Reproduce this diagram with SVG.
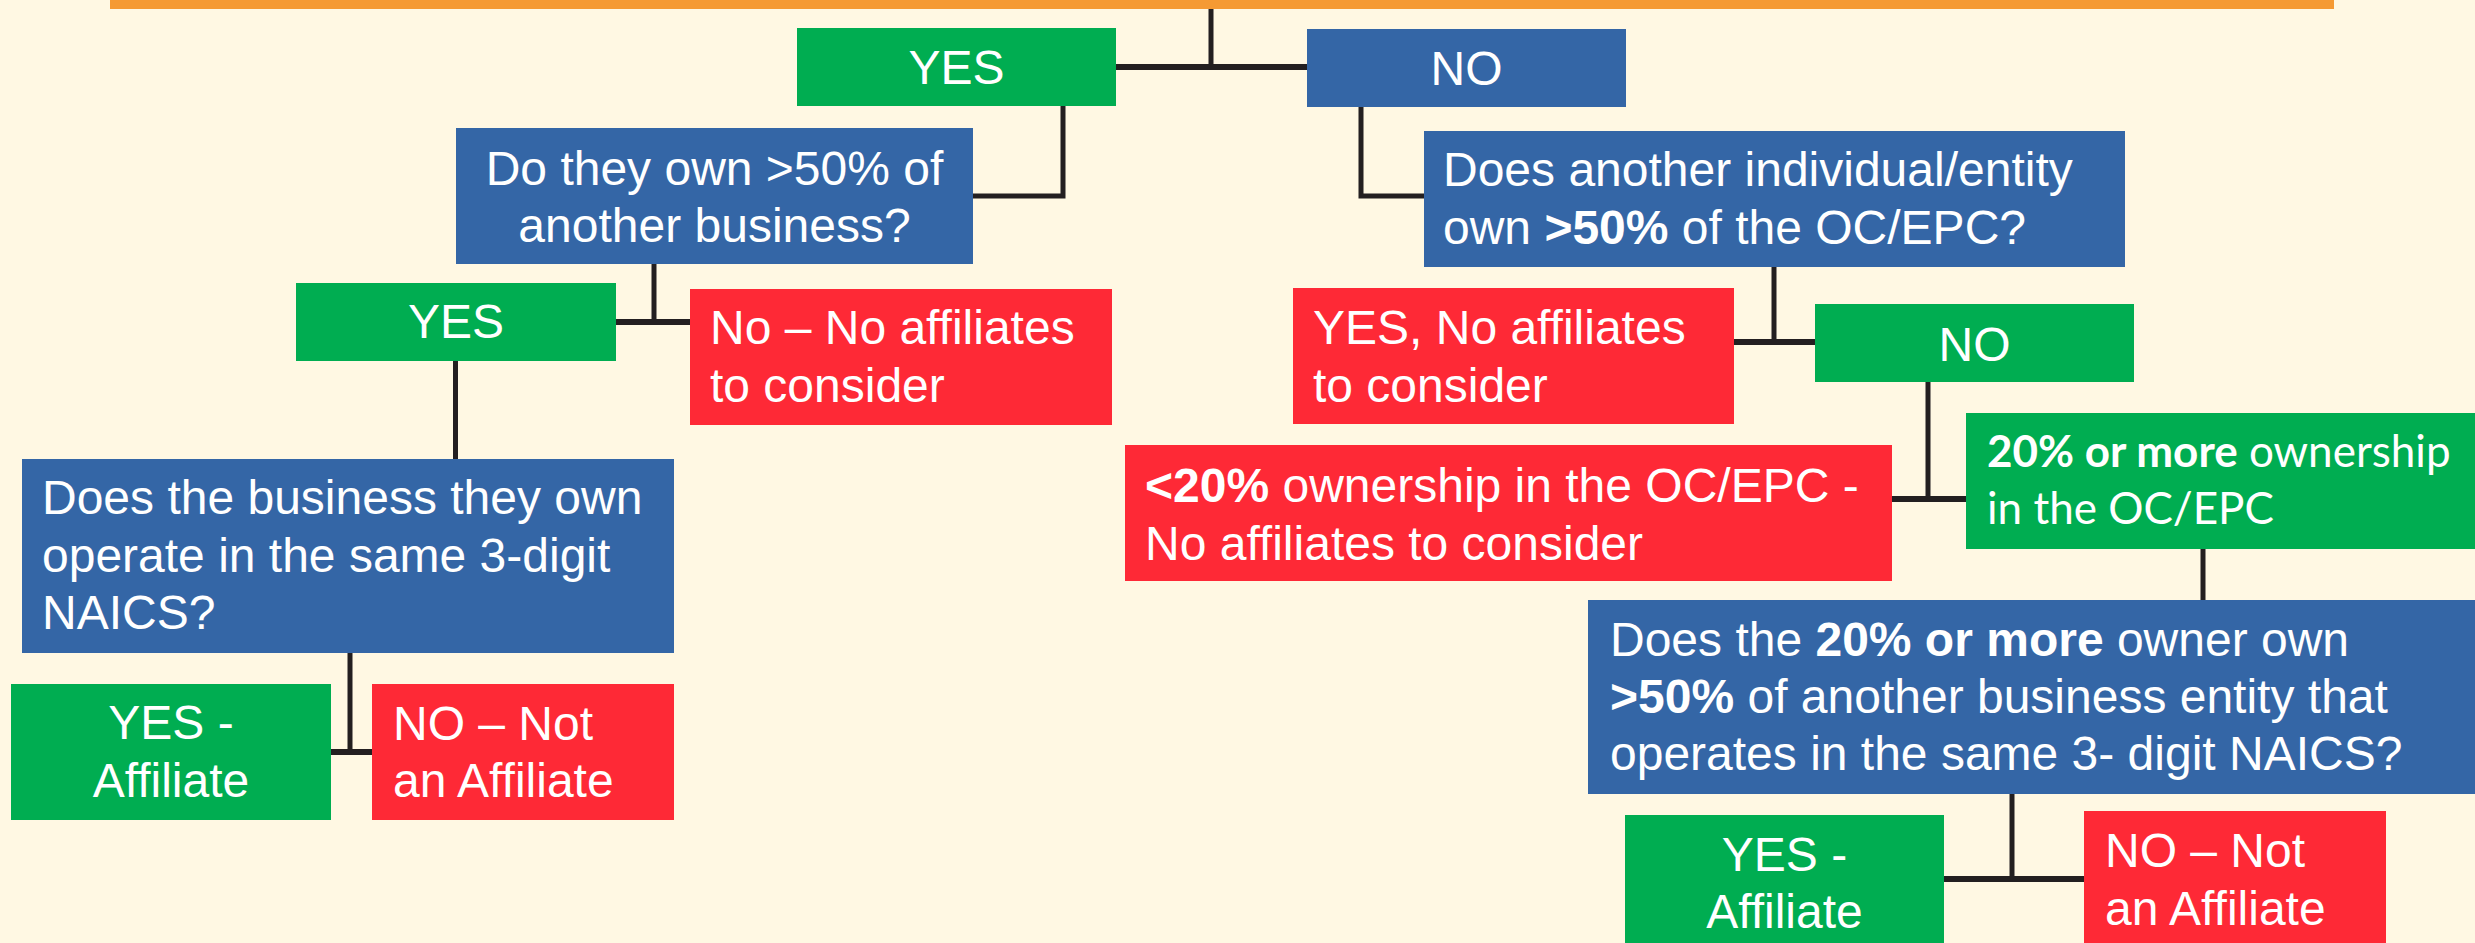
<svg xmlns="http://www.w3.org/2000/svg" width="2475" height="943" viewBox="0 0 2475 943">
<style>
.bg{fill:#FFF8E3}
.green{fill:#00AD51}
.blue{fill:#3466A6}
.red{fill:#FE2936}
.orange{fill:#F59A33}
.t{font-family:"Liberation Sans",Arial,sans-serif;font-size:48px;fill:#FFFFFF}
.c{text-anchor:middle}
.b{font-weight:bold}
.cal{font-family:Lato,"Liberation Sans",sans-serif;font-size:44px;fill:#FFFFFF}
.ln{stroke:#231F20;stroke-width:5;fill:none}
.lh{stroke:#231F20;stroke-width:6;fill:none}
</style>
<rect class="bg" x="0" y="0" width="2475" height="943"/>
<g id="connectors">
<path class="ln" d="M1211,9 V67"/>
<path class="lh" d="M1116,67 H1307"/>
<path class="ln" d="M1063,106 V196 H973"/>
<path class="ln" d="M1361,100 V196 H1424"/>
<path class="ln" d="M654,264 V322"/>
<path class="lh" d="M616,322 H690"/>
<path class="ln" d="M455.5,361 V459"/>
<path class="ln" d="M350,653 V752"/>
<path class="lh" d="M331,752 H372"/>
<path class="ln" d="M1774,267 V342"/>
<path class="lh" d="M1734,342 H1815"/>
<path class="ln" d="M1928,382 V499"/>
<path class="lh" d="M1892,499 H1966"/>
<path class="ln" d="M2203,549 V600"/>
<path class="ln" d="M2012,794 V879"/>
<path class="lh" d="M1944,879 H2084"/>
</g>
<g id="top-bar">
<rect class="orange" x="110" y="-50" width="2224" height="59"/>
</g>
<g id="yes-1">
<rect class="green" x="797" y="28" width="319" height="78"/>
<text class="t c" x="956.5" y="84">YES</text>
</g>
<g id="no-1">
<rect class="blue" x="1307" y="29" width="319" height="78"/>
<text class="t c" x="1466.5" y="85">NO</text>
</g>
<g id="q-own-50">
<rect class="blue" x="456" y="128" width="517" height="136"/>
<text class="t c" x="714.5" y="185">Do they own &gt;50% of</text>
<text class="t c" x="714.5" y="242">another business?</text>
</g>
<g id="yes-2">
<rect class="green" x="296" y="283" width="320" height="78"/>
<text class="t c" x="456" y="338">YES</text>
</g>
<g id="no-affiliates-1">
<rect class="red" x="690" y="289" width="422" height="136"/>
<text class="t" x="710" y="344">No – No affiliates</text>
<text class="t" x="710" y="401.5">to consider</text>
</g>
<g id="q-same-naics">
<rect class="blue" x="22" y="459" width="652" height="194"/>
<text class="t" x="42" y="514">Does the business they own</text>
<text class="t" x="42" y="571.5">operate in the same 3-digit</text>
<text class="t" x="42" y="629">NAICS?</text>
</g>
<g id="yes-affiliate-1">
<rect class="green" x="11" y="684" width="320" height="136"/>
<text class="t c" x="171" y="739">YES -</text>
<text class="t c" x="171" y="797">Affiliate</text>
</g>
<g id="not-affiliate-1">
<rect class="red" x="372" y="684" width="302" height="136"/>
<text class="t" x="393" y="740">NO – Not</text>
<text class="t" x="393" y="797">an Affiliate</text>
</g>
<g id="q-another-50">
<rect class="blue" x="1424" y="131" width="701" height="136"/>
<text class="t" x="1443" y="186">Does another individual/entity</text>
<text class="t" x="1443" y="243.5">own <tspan class="b">&gt;50%</tspan> of the OC/EPC?</text>
</g>
<g id="yes-no-affiliates">
<rect class="red" x="1293" y="288" width="441" height="136"/>
<text class="t" x="1313" y="344">YES, No affiliates</text>
<text class="t" x="1313" y="401.5">to consider</text>
</g>
<g id="no-2">
<rect class="green" x="1815" y="304" width="319" height="78"/>
<text class="t c" x="1974.5" y="361">NO</text>
</g>
<g id="less-20">
<rect class="red" x="1125" y="445" width="767" height="136"/>
<text class="t" x="1145" y="502"><tspan class="b">&lt;20%</tspan> ownership in the OC/EPC -</text>
<text class="t" x="1145" y="559.5">No affiliates to consider</text>
</g>
<g id="more-20">
<rect class="green" x="1966" y="413" width="520" height="136"/>
<text class="cal" x="1987" y="467"><tspan class="b">20% or more</tspan> ownership</text>
<text class="cal" x="1987" y="524">in the OC/EPC</text>
</g>
<g id="q-20-owner">
<rect class="blue" x="1588" y="600" width="900" height="194"/>
<text class="t" x="1610" y="656">Does the <tspan class="b">20% or more</tspan> owner own</text>
<text class="t" x="1610" y="713"><tspan class="b">&gt;50%</tspan> of another business entity that</text>
<text class="t" x="1610" y="770">operates in the same 3- digit NAICS?</text>
</g>
<g id="yes-affiliate-2">
<rect class="green" x="1625" y="815" width="319" height="150"/>
<text class="t c" x="1784.5" y="871">YES -</text>
<text class="t c" x="1784.5" y="928">Affiliate</text>
</g>
<g id="not-affiliate-2">
<rect class="red" x="2084" y="811" width="302" height="150"/>
<text class="t" x="2105" y="867">NO – Not</text>
<text class="t" x="2105" y="925">an Affiliate</text>
</g>
</svg>
